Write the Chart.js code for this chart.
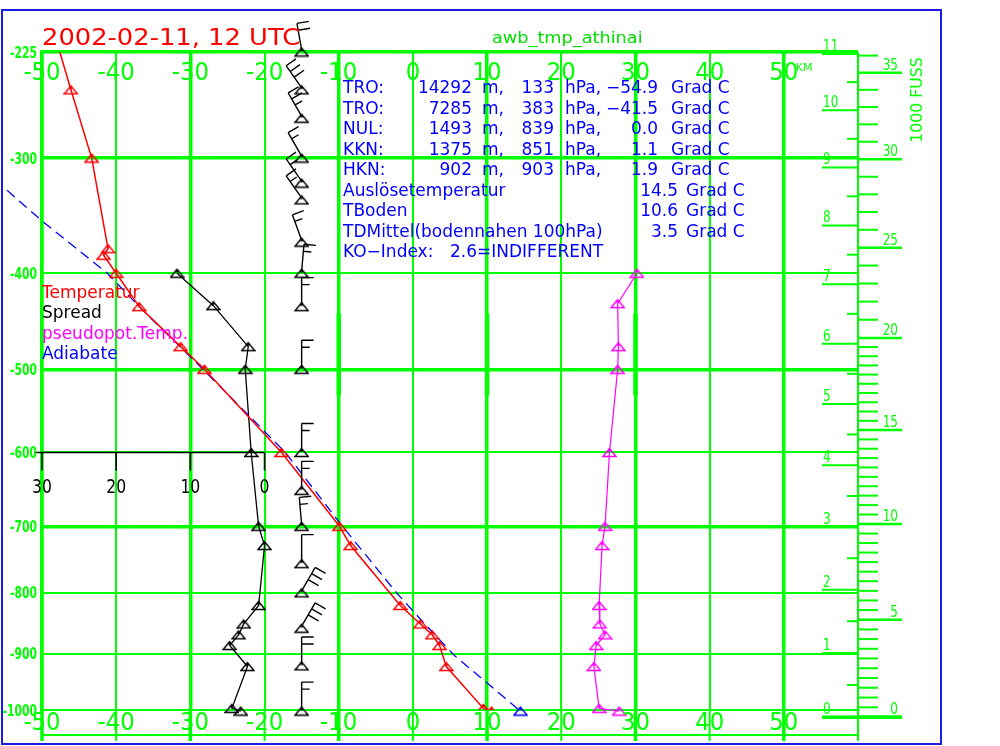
<!DOCTYPE html>
<html>
<head>
<meta charset="utf-8">
<script src="https://cdn.jsdelivr.net/npm/chart.js@4.4.0/dist/chart.umd.min.js"></script>
<style>
html,body{margin:0;padding:0;background:#ffffff;}
canvas{display:block;}
</style>
</head>
<body>
<canvas id="c" width="1000" height="746"></canvas>
<script>
// ---------------- data ----------------
const titleText = '2002-02-11, 12 UTC';
const stationText = 'awb_tmp_athinai';

const xTicks = [-50, -40, -30, -20, -10, 0, 10, 20, 30, 40, 50, 60];
const xLabels = [-50, -40, -30, -20, -10, 0, 10, 20, 30, 40, 50];
const pLevels = [225, 300, 400, 500, 600, 700, 800, 900, 1000];
const thickP = [225, 300, 500, 700];
const thickT = [-50, -30, -10, 10, 30, 50];
const markT = [-10, 10, 30];
const markP = [440, 530];

// Temperature (red)
const tempP = [225, 250, 300, 377, 383, 400, 433, 475, 500, 600, 700, 728, 820, 850, 868, 886, 922, 997, 1002];
const tempC = [-47.6, -46.1, -43.3, -41.1, -41.7, -40.0, -36.9, -31.3, -28.1, -17.7, -9.9, -8.4, -1.7, 1.0, 2.6, 3.6, 4.5, 9.5, 10.6];

// Spread (black), drawn on the inset spread axis (0 at -20 °C)
const spreadP = [400, 432, 475, 500, 600, 700, 728, 820, 850, 868, 886, 922, 997, 1002];
const spreadK = [11.8, 6.9, 2.2, 2.6, 1.8, 0.8, 0.0, 0.8, 2.8, 3.5, 4.7, 2.3, 4.4, 3.2];
const spreadZeroT = -20;
const spreadAxisP = 600;
const spreadTicks = [30, 20, 10, 0];

// pseudopotential temperature (magenta)
const thetaP = [400, 430, 475, 500, 600, 700, 728, 820, 850, 868, 886, 922, 997, 1002];
const thetaC = [30.2, 27.6, 27.7, 27.6, 26.5, 25.9, 25.5, 25.1, 25.2, 25.9, 24.7, 24.4, 25.1, 27.8];

// Adiabate (blue dashed)
const adiabP = [326, 352, 400, 433, 500, 600, 700, 800, 850, 903, 1002];
const adiabC = [-54.7, -50.0, -41.2, -36.9, -28.3, -17.2, -9.5, -2.2, 1.6, 5.6, 14.5];

// Wind (barbs, black)
const windT = -15;
const windP   = [225, 250, 270, 300, 320, 334, 371, 400, 433, 500, 600, 650, 700, 755, 800, 857, 921, 1002];
const windDir = [350, 325, 330, 330, 325, 325, 340, 5, 0, 0, 0, 0, 355, 0, 30, 30, 0, 0];
const windKt  = [20, 30, 25, 15, 15, 15, 15, 15, 15, 15, 15, 15, 15, 10, 30, 30, 20, 15];

// Height scales on the right
const kmTicks = [0, 1, 2, 3, 4, 5, 6, 7, 8, 9, 10, 11];
const kmHalf = [0.5, 1.5, 2.5, 3.5, 4.5, 5.5, 6.5, 7.5, 8.5, 9.5, 10.5];
const ftLabels = [0, 5, 10, 15, 20, 25, 30, 35];
const ftMinor = [0.5,1,1.5,2,2.5,3,3.5,4,4.5,5.5,6,6.5,7,7.5,8,8.5,9,9.5,10.5,11,11.5,12,12.5,13,13.5,14,14.5,15.5,16,16.5,17,17.5,18,18.5,19,19.5,21,22,23,24,26,27,28,29,31,32,33,34,36];

// Legend and info text
const legendNames = ['Temperatur', 'Spread', 'pseudopot.Temp.', 'Adiabate'];
const legendColors = ['#ff0000', '#000000', '#ff00ff', '#0000ff'];
const infoNames = ['TRO:', 'TRO:', 'NUL:', 'KKN:', 'HKN:'];
const infoHeightM = ['14292', '7285', '1493', '1375', '902'];
const infoPressure = ['133', '383', '839', '851', '903'];
const infoTempC = ['\u221254.9', '\u221241.5', '0.0', '1.1', '1.9'];
const extraNames = ['Auslösetemperatur', 'TBoden', 'TDMittel(bodennahen 100hPa)'];
const extraTempC = ['14.5', '10.6', '3.5'];
const koLabel = 'KO\u2212Index:';
const koValue = '2.6=INDIFFERENT';

// ---------------- helpers ----------------
const K = 0.286;                       // Stüve pressure axis: p^0.286
const sv = p => Math.pow(p, K);
const pv = v => Math.round(Math.pow(v, 1 / K));
const hToP = h => 1013.25 * Math.pow(1 - 2.25577e-5 * h, 5.25588); // standard atmosphere
const GREEN = '#00ff00';

function tri(color) {
  const c = document.createElement('canvas');
  c.width = 15; c.height = 11;
  const g = c.getContext('2d');
  g.strokeStyle = color; g.lineWidth = 1.4;
  g.beginPath(); g.moveTo(7.5, 1.5); g.lineTo(1, 9.5); g.lineTo(14, 9.5); g.closePath(); g.stroke();
  g.fillStyle = color; g.beginPath(); g.arc(7.5, 3.2, 1.6, 0, 7); g.fill();
  return c;
}
const triRed = tri('#ff0000'), triBlack = tri('#000000'), triMag = tri('#ff00ff'), triBlue = tri('#0000ff');

function text(ctx, s, x, y, o) {
  o = o || {};
  const size = o.size || 16;
  ctx.save();
  ctx.font = (o.bold ? 'bold ' : '') + size + 'px "DejaVu Sans", sans-serif';
  ctx.fillStyle = o.color || '#000';
  ctx.textAlign = o.align || 'left';
  ctx.textBaseline = 'alphabetic';
  const k = o.sx || 1;
  ctx.translate(x, y);
  if (o.rot) ctx.rotate(o.rot);
  ctx.scale(k, 1);
  ctx.fillText(s, 0, 0);
  ctx.restore();
}

function barb(ctx, px, py, dir, kt) {
  const L = 27, r = dir * Math.PI / 180;
  const ux = Math.sin(r), uy = -Math.cos(r);
  const rx = Math.cos(r), ry = Math.sin(r);
  const tx = px + ux * L, ty = py + uy * L;
  ctx.beginPath();
  ctx.moveTo(px, py); ctx.lineTo(tx, ty);
  let pos = 0, rem = kt;
  while (rem >= 10) {
    const bx = tx - ux * pos, by = ty - uy * pos;
    ctx.moveTo(bx, by); ctx.lineTo(bx + rx * 12, by + ry * 12);
    pos += 7; rem -= 10;
  }
  if (rem >= 5) {
    const bx = tx - ux * pos, by = ty - uy * pos;
    ctx.moveTo(bx, by); ctx.lineTo(bx + rx * 8, by + ry * 8);
  }
  ctx.stroke();
}

const overlay = {
  id: 'overlay',
  beforeDatasetsDraw(chart) {
    const {ctx, chartArea: a} = chart;
    const x = chart.scales.x, y = chart.scales.y;
    const Y = p => y.getPixelForValue(sv(p));
    ctx.save();
    ctx.strokeStyle = GREEN;
    // thick marks on some isotherms
    ctx.lineWidth = 4.5;
    markT.forEach(t => {
      const px = x.getPixelForValue(t);
      ctx.beginPath(); ctx.moveTo(px, Y(markP[0])); ctx.lineTo(px, Y(markP[1])); ctx.stroke();
    });
    // isotherms continue below the diagram
    xTicks.forEach(t => {
      const px = x.getPixelForValue(t);
      ctx.lineWidth = thickT.includes(t) ? 3.5 : 2;
      ctx.beginPath(); ctx.moveTo(px, a.bottom); ctx.lineTo(px, a.bottom + 31); ctx.stroke();
    });
    ctx.lineWidth = 2;
    ctx.beginPath(); ctx.moveTo(a.left, a.bottom + 25); ctx.lineTo(a.right, a.bottom + 25); ctx.stroke();
    // spread axis
    ctx.strokeStyle = '#000'; ctx.lineWidth = 1.6;
    const ys = Y(spreadAxisP);
    ctx.beginPath();
    ctx.moveTo(x.getPixelForValue(spreadZeroT - spreadTicks[0]) - 8, ys);
    ctx.lineTo(x.getPixelForValue(spreadZeroT), ys);
    spreadTicks.forEach(s => {
      const px = x.getPixelForValue(spreadZeroT - s);
      ctx.moveTo(px, ys); ctx.lineTo(px, ys + 18);
    });
    ctx.stroke();
    ctx.restore();
    spreadTicks.forEach(s => {
      text(ctx, String(s), x.getPixelForValue(spreadZeroT - s), ys + 41, {size: 20, sx: 0.78, align: 'center', color: '#000'});
    });
  },
  afterDatasetsDraw(chart) {
    const {ctx} = chart;
    const x = chart.scales.x, y = chart.scales.y;
    ctx.save();
    ctx.strokeStyle = '#000'; ctx.lineWidth = 1.4;
    windP.forEach((p, i) => {
      barb(ctx, x.getPixelForValue(windT), y.getPixelForValue(sv(p)) - 2, windDir[i], windKt[i]);
    });
    ctx.restore();
  },
  afterDraw(chart) {
    const {ctx, chartArea: a} = chart;
    const x = chart.scales.x, y = chart.scales.y;
    const Y = p => y.getPixelForValue(sv(p));

    // title and station
    text(ctx, titleText, a.left, 45, {size: 23, sx: 1.12, color: '#ff0000'});
    text(ctx, stationText, 492, 43, {size: 15, sx: 1.18, color: '#00e000'});

    // temperature labels top and bottom
    xLabels.forEach(t => {
      const s = String(t);
      const px = x.getPixelForValue(t);
      text(ctx, s, px, a.top + 28, {size: 24, sx: 0.95, align: 'center', color: GREEN});
      text(ctx, s, px, a.bottom + 20, {size: 24, sx: 0.95, align: 'center', color: GREEN});
    });
    text(ctx, 'KM', x.getPixelForValue(50) + 12, a.top + 19, {size: 11, color: GREEN});

    // pressure labels
    pLevels.forEach(p => {
      text(ctx, '-' + p, a.left - 5, Y(p) + 5.5, {size: 15, bold: true, sx: 0.72, align: 'right', color: GREEN});
    });

    // legend
    legendNames.forEach((n, i) => {
      text(ctx, n, a.left, 298 + i * 20.3, {size: 17, color: legendColors[i]});
    });

    // info block
    const BLUE = '#0000ff';
    const rowY = i => 93 + i * 20.5;
    infoNames.forEach((n, i) => {
      const by = rowY(i);
      text(ctx, n, 343, by, {size: 17, color: BLUE});
      text(ctx, infoHeightM[i], 472, by, {size: 17, color: BLUE, align: 'right'});
      text(ctx, 'm,', 482, by, {size: 17, color: BLUE});
      text(ctx, infoPressure[i], 554, by, {size: 17, color: BLUE, align: 'right'});
      text(ctx, 'hPa,', 565, by, {size: 17, color: BLUE});
      text(ctx, infoTempC[i], 658, by, {size: 17, color: BLUE, align: 'right'});
      text(ctx, 'Grad C', 671, by, {size: 17, color: BLUE});
    });
    extraNames.forEach((n, i) => {
      const by = rowY(i + 5);
      text(ctx, n, 343, by, {size: 17, color: BLUE});
      text(ctx, extraTempC[i], 678, by, {size: 17, color: BLUE, align: 'right'});
      text(ctx, 'Grad C', 686, by, {size: 17, color: BLUE});
    });
    text(ctx, koLabel, 343, rowY(8), {size: 17, color: BLUE});
    text(ctx, koValue, 450, rowY(8), {size: 17, color: BLUE});

    // right height scales
    const ax = a.right;
    ctx.save();
    ctx.strokeStyle = GREEN; ctx.lineWidth = 2;
    const y0 = Y(hToP(0));
    ctx.beginPath(); ctx.moveTo(ax, a.top); ctx.lineTo(ax, y0); ctx.stroke();
    kmTicks.forEach(k => {
      const yy = Y(hToP(k * 1000));
      ctx.lineWidth = k === 0 ? 3.5 : 2;
      ctx.beginPath(); ctx.moveTo(ax - 36, yy); ctx.lineTo(k === 0 ? ax + 44 : ax, yy); ctx.stroke();
    });
    ctx.lineWidth = 2;
    kmHalf.forEach(k => {
      const yy = Y(hToP(k * 1000));
      ctx.beginPath(); ctx.moveTo(ax - 11, yy); ctx.lineTo(ax, yy); ctx.stroke();
    });
    ftMinor.forEach(f => {
      const yy = Y(hToP(f * 1000 * 0.3048));
      ctx.beginPath(); ctx.moveTo(ax, yy); ctx.lineTo(ax + 20, yy); ctx.stroke();
    });
    ftLabels.forEach(f => {
      const yy = Y(hToP(f * 1000 * 0.3048));
      ctx.lineWidth = f === 0 ? 3.5 : 2.5;
      ctx.beginPath(); ctx.moveTo(ax, yy); ctx.lineTo(ax + 44, yy); ctx.stroke();
    });
    ctx.restore();
    kmTicks.forEach(k => {
      const yy = Y(hToP(k * 1000));
      text(ctx, String(k), ax - 35, yy - 3, {size: 16, sx: 0.75, color: GREEN});
    });
    ftLabels.forEach(f => {
      const yy = Y(hToP(f * 1000 * 0.3048));
      text(ctx, String(f), ax + 40, yy - 3, {size: 16, sx: 0.75, align: 'right', color: GREEN});
    });
    text(ctx, '1000 FUSS', 922, 100, {size: 15, sx: 1.05, align: 'center', color: GREEN, rot: -Math.PI / 2});

    // frame
    ctx.save();
    ctx.strokeStyle = '#1c1ce0'; ctx.lineWidth = 2;
    ctx.strokeRect(2, 10, 939, 734);
    ctx.restore();
  }
};

const pts = (P, V, f) => P.map((p, i) => ({x: f ? f(V[i]) : V[i], y: sv(p)}));

new Chart(document.getElementById('c'), {
  type: 'scatter',
  data: {
    datasets: [
      {
        label: 'Temperatur', data: pts(tempP, tempC), showLine: true,
        borderColor: '#ff0000', borderWidth: 1.5, pointRadius: 5,
        pointStyle: c => tempP[c.dataIndex] <= 225 ? false : triRed
      },
      {
        label: 'Adiabate', data: pts(adiabP, adiabC), showLine: true,
        borderColor: '#0000ff', borderWidth: 1.3, borderDash: [10, 6], pointRadius: 5,
        pointStyle: c => c.dataIndex === adiabP.length - 1 ? triBlue : false,
        clip: {left: 40, top: 0, right: 0, bottom: 10}
      },
      {
        label: 'Spread', data: pts(spreadP, spreadK, s => spreadZeroT - s), showLine: true,
        borderColor: '#000000', borderWidth: 1.3, pointRadius: 5, pointStyle: triBlack,
        clip: {left: 0, top: 0, right: 0, bottom: 10}
      },
      {
        label: 'pseudopot.Temp.', data: pts(thetaP, thetaC), showLine: true,
        borderColor: '#ff00ff', borderWidth: 1.2, pointRadius: 5, pointStyle: triMag,
        clip: {left: 0, top: 0, right: 0, bottom: 10}
      },
      {
        label: 'Wind', data: windP.map(p => ({x: windT, y: sv(p)})), showLine: false,
        pointRadius: 5, pointStyle: triBlack,
        clip: {left: 0, top: 10, right: 0, bottom: 10}
      }
    ]
  },
  options: {
    responsive: false,
    animation: false,
    devicePixelRatio: 1,
    layout: {autoPadding: false, padding: {left: 42, right: 142, top: 52, bottom: 36}},
    plugins: {legend: {display: false}, tooltip: {enabled: false}},
    scales: {
      x: {
        type: 'linear', min: -50, max: 60,
        afterBuildTicks: s => { s.ticks = xTicks.map(v => ({value: v})); },
        ticks: {display: false},
        grid: {color: GREEN, drawTicks: false, lineWidth: c => thickT.includes(c.tick.value) ? 3.5 : 2},
        border: {display: true, color: GREEN, width: 2}
      },
      y: {
        type: 'linear', reverse: true, min: sv(225), max: sv(1000),
        afterBuildTicks: s => { s.ticks = pLevels.map(p => ({value: sv(p)})); },
        ticks: {display: false},
        grid: {color: GREEN, drawTicks: false, lineWidth: c => thickP.includes(pv(c.tick.value)) ? 3.5 : 2},
        border: {display: true, color: GREEN, width: 3.5}
      }
    }
  },
  plugins: [overlay]
});
</script>
</body>
</html>
